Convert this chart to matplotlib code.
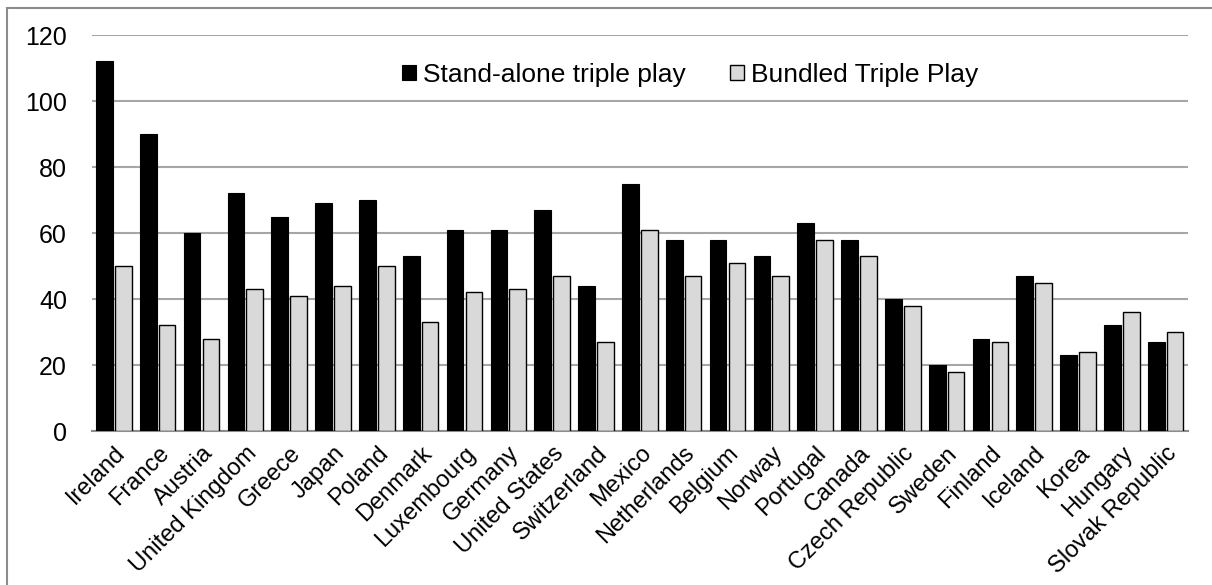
import numpy as np
import matplotlib
matplotlib.use("Agg")
import matplotlib.pyplot as plt
from matplotlib.patches import Rectangle

plt.rcParams['font.family'] = ['Liberation Sans', 'DejaVu Sans']

countries = ["Ireland", "France", "Austria", "United Kingdom", "Greece", "Japan",
             "Poland", "Denmark", "Luxembourg", "Germany", "United States",
             "Switzerland", "Mexico", "Netherlands", "Belgium", "Norway",
             "Portugal", "Canada", "Czech Republic", "Sweden", "Finland",
             "Iceland", "Korea", "Hungary", "Slovak Republic"]
standalone = [112, 90, 60, 72, 65, 69, 70, 53, 61, 61, 67, 44, 75, 58, 58, 53,
              63, 58, 40, 20, 28, 47, 23, 32, 27]
bundled = [50, 32, 28, 43, 41, 44, 50, 33, 42, 43, 47, 27, 61, 47, 51, 47,
           58, 53, 38, 18, 27, 45, 24, 36, 30]
yticks = [0, 20, 40, 60, 80, 100, 120]

fig = plt.figure(figsize=(12.12, 5.85), dpi=100)
ax = fig.add_axes([0.0759, 0.2632, 0.904, 0.6768])

# outer chart frame
fig.patches.append(Rectangle((7 / 1212, -0.1), 1.2, 1 - 8 / 585 + 0.1,
                             transform=fig.transFigure, fill=False,
                             edgecolor='#8c8c8c', linewidth=1.5))

x = np.arange(len(countries))
w = 0.38
ax.bar(x - w / 2 - 0.025, standalone, w, color='black', edgecolor='black',
       linewidth=0.8, label='Stand-alone triple play', zorder=3)
ax.bar(x + w / 2 + 0.025, bundled, w, color='#d9d9d9', edgecolor='black',
       linewidth=1.0, label='Bundled Triple Play', zorder=3)

ax.set_xlim(-0.5, len(countries) - 0.5)
ax.set_ylim(0, 120)
ax.set_yticks(yticks)
ax.yaxis.grid(True, color='#a6a6a6', linewidth=1.5, zorder=0)
ax.set_axisbelow(True)
for s in ['top', 'right', 'left']:
    ax.spines[s].set_visible(False)
ax.spines['bottom'].set_color('#8c8c8c')
ax.spines['bottom'].set_linewidth(1.5)
ax.tick_params(axis='y', length=0, pad=18, labelsize=18)
ax.tick_params(axis='x', length=0, pad=8, labelsize=17)
ax.set_xticks(x)
ax.set_xticklabels(countries, rotation=45, ha='right', rotation_mode='anchor')

ax.legend(loc='center', bbox_to_anchor=(0.546, 0.9), ncol=2, frameon=False,
          fontsize=19, handlelength=0.52, handleheight=0.52, handletextpad=0.25,
          columnspacing=1.7)

fig.savefig('out.png', dpi=100)
